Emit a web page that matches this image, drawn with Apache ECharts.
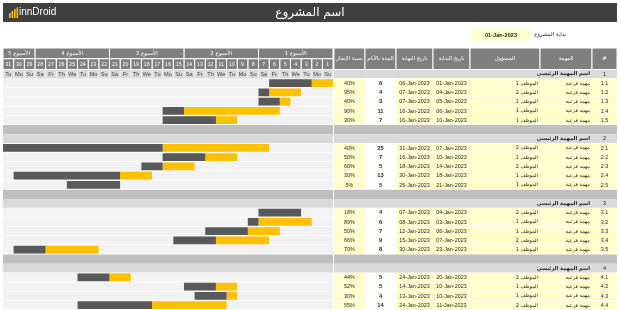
<!DOCTYPE html>
<html><head><meta charset="utf-8">
<script src="https://cdn.jsdelivr.net/npm/echarts@6/dist/echarts.min.js"></script>
<style>html,body{margin:0;padding:0;background:#fff}#c{width:620px;height:310px}</style>
</head><body><div id="c"></div><script>
// ---------- data ----------
const projectTitle = 'اسم المشروع';
const projectStartLabel = 'بداية المشروع';
const projectStartDate = '01-Jan-2023';
const monthLabel = 'Jan';
const yearLabel = '2023';
const daysInMonth = 31;
const weekLabels = ['الأسبوع 1', 'الأسبوع 2', 'الأسبوع 3', 'الأسبوع 4', 'الأسبوع 5'];
const weekStartDays = [1, 8, 15, 22, 29];
const weekEndDays = [7, 14, 21, 28, 31];
const dayNames = ['Su', 'Mo', 'Tu', 'We', 'Th', 'Fr', 'Sa']; // 1 Jan 2023 is a Sunday
const tableHeaders = ['نسبة الإنجاز', 'المدة بالأيام', 'تاريخ النهاية', 'تاريخ البداية', 'المسؤول', 'المهمة', '#'];
const sectionIds = ['1', '2', '3', '4'];
const sectionNames = ['اسم المهمة الرئيسي', 'اسم المهمة الرئيسي', 'اسم المهمة الرئيسي', 'اسم المهمة الرئيسي'];
const sectionTaskCounts = [5, 5, 5, 4];
const taskIds = ['1.1','1.2','1.3','1.4','1.5','2.1','2.2','2.3','2.4','2.5','3.1','3.2','3.3','3.4','3.5','4.1','4.2','4.3','4.4'];
const taskNames = ['مهمة فرعية','مهمة فرعية','مهمة فرعية','مهمة فرعية','مهمة فرعية','مهمة فرعية','مهمة فرعية','مهمة فرعية','مهمة فرعية','مهمة فرعية','مهمة فرعية','مهمة فرعية','مهمة فرعية','مهمة فرعية','مهمة فرعية','مهمة فرعية','مهمة فرعية','مهمة فرعية','مهمة فرعية'];
const taskOwners = ['الموظف 1','الموظف 2','الموظف 1','الموظف 1','الموظف 1','الموظف 2','الموظف 1','الموظف 2','الموظف 1','الموظف 1','الموظف 2','الموظف 1','الموظف 1','الموظف 2','الموظف 1','الموظف 2','الموظف 1','الموظف 1','الموظف 2'];
const taskStartDay = [1, 4, 5, 6, 10, 7, 10, 14, 18, 21, 4, 3, 6, 7, 23, 20, 10, 10, 11];
const taskEndDay = [6, 7, 7, 16, 16, 31, 16, 18, 30, 25, 7, 8, 12, 15, 30, 24, 14, 13, 24];
const taskDuration = [6, 4, 3, 11, 7, 25, 7, 5, 13, 5, 4, 6, 7, 9, 8, 5, 5, 4, 14];
const taskProgress = [40, 95, 40, 90, 30, 40, 50, 60, 30, 5, 18, 89, 50, 66, 70, 44, 52, 30, 55];

// ---------- layout / style ----------
const FONT = "'Liberation Sans','DejaVu Sans',sans-serif";
const AFONT = "'DejaVu Sans','Liberation Sans',sans-serif";
const colWidths = [31, 31, 37, 37, 70, 52, 25]; // left -> right, matches tableHeaders
const C = {bar: '#ffc000', rest: '#595959', head: '#7f7f7f', dayBg: '#d9d9d9', sep: '#bfbfbf', main: '#d9d9d9', row: '#f2f2f2', yellow: '#ffffcc', text: '#262626'};
const ROW_H = 9.35, BODY_TOP = 69.5, HEAD_TOP = 48;

const fmtDate = d => String(d).padStart(2, '0') + '-' + monthLabel + '-' + yearLabel;
const colEdges = [0];
colWidths.forEach(w => colEdges.push(colEdges[colEdges.length - 1] + w));
const tableWidth = colEdges[colEdges.length - 1];

const rows = [];
let tCounter = 0;
sectionIds.forEach((s, si) => {
  if (si > 0) rows.push({type: 'sep'});
  rows.push({type: 'main', sec: si});
  for (let k = 0; k < sectionTaskCounts[si]; k++) rows.push({type: 'task', t: tCounter++});
});

function xr(api, a, b, ri) {
  const xa = api.coord([a, ri])[0], xb = api.coord([b, ri])[0];
  return [Math.min(xa, xb), Math.abs(xb - xa)];
}
function txt(text, x, y, o) {
  return {type: 'text', silent: true, style: Object.assign({text, x, y, align: 'center', verticalAlign: 'middle', fill: C.text, fontSize: 5.4, fontFamily: FONT}, o || {})};
}

function renderGanttBody(params, api) {
  const ri = api.value(1);
  const r = rows[ri];
  const yc = api.coord([1, ri])[1];
  const h = api.size([0, 1])[1];
  const y0 = yc - h / 2;
  const [gx, gw] = xr(api, 0.5, daysInMonth + 0.5, ri);
  const ch = [];
  if (r.type === 'sep') {
    ch.push({type: 'rect', shape: {x: gx, y: y0, width: gw, height: h}, style: {fill: C.sep}});
  } else if (r.type === 'main') {
    ch.push({type: 'rect', shape: {x: gx, y: y0, width: gw, height: h - 0.6}, style: {fill: C.main}});
    if (r.sec === 0) {
      for (let d = 1; d <= daysInMonth; d++) {
        const [x, w] = xr(api, d - 0.5, d + 0.5, ri);
        ch.push({type: 'rect', shape: {x, y: y0, width: w, height: h}, style: {fill: C.dayBg, stroke: '#fff', lineWidth: 0.6}});
        ch.push(txt(dayNames[(d - 1) % 7], x + w / 2, yc, {fontSize: 5.6, fill: '#404040'}));
      }
    }
  } else {
    const t = r.t;
    ch.push({type: 'rect', shape: {x: gx, y: y0, width: gw, height: h - 0.7}, style: {fill: C.row}});
    const s = taskStartDay[t], e = taskEndDay[t];
    const done = Math.floor(taskProgress[t] / 100 * taskDuration[t]);
    if (done > 0) {
      const [x, w] = xr(api, s - 0.5, s + done - 0.5, ri);
      ch.push({type: 'rect', shape: {x, y: y0 + 0.5, width: w, height: h - 1.5}, style: {fill: C.bar}});
    }
    if (s + done <= e) {
      const [x, w] = xr(api, s + done - 0.5, e + 0.5, ri);
      ch.push({type: 'rect', shape: {x, y: y0 + 0.5, width: w, height: h - 1.5}, style: {fill: C.rest}});
    }
  }
  return {type: 'group', children: ch};
}

function renderGanttHead(params, api) {
  const ri = api.value(1);
  const yc = api.coord([1, ri])[1];
  const h = api.size([0, 1])[1];
  const y0 = yc - h / 2;
  const ch = [];
  if (ri === 0) {
    weekLabels.forEach((lab, w) => {
      const [x, wd] = xr(api, weekStartDays[w] - 0.5, weekEndDays[w] + 0.5, ri);
      ch.push({type: 'rect', shape: {x, y: y0, width: wd, height: h}, style: {fill: C.head, stroke: '#fff', lineWidth: 1}});
      ch.push(txt(lab, x + wd / 2, yc, {fill: '#fff', fontSize: 5.4, fontFamily: AFONT}));
    });
  } else {
    for (let d = 1; d <= daysInMonth; d++) {
      const [x, w] = xr(api, d - 0.5, d + 0.5, ri);
      ch.push({type: 'rect', shape: {x, y: y0, width: w, height: h}, style: {fill: C.head, stroke: '#fff', lineWidth: 1}});
      ch.push(txt(String(d), x + w / 2, yc, {fill: '#fff', fontSize: 5.2}));
    }
  }
  return {type: 'group', children: ch};
}

function renderTableHead(params, api) {
  const yc = api.coord([0, 0])[1];
  const h = api.size([0, 1])[1];
  const y0 = yc - h / 2;
  const ch = [];
  tableHeaders.forEach((lab, c) => {
    const [x, w] = xr(api, colEdges[c], colEdges[c + 1], 0);
    ch.push({type: 'rect', shape: {x, y: y0, width: w, height: h}, style: {fill: C.head, stroke: '#fff', lineWidth: 1}});
    ch.push(txt(lab, x + w / 2, yc, {fill: '#fff', fontSize: 5.4, fontFamily: AFONT}));
  });
  return {type: 'group', children: ch};
}

function renderTableBody(params, api) {
  const ri = api.value(1);
  const r = rows[ri];
  const yc = api.coord([0, ri])[1];
  const h = api.size([0, 1])[1];
  const y0 = yc - h / 2;
  const [tx, tw] = xr(api, 0, tableWidth, ri);
  const cx = c => xr(api, colEdges[c], colEdges[c + 1], ri);
  const ch = [];
  if (r.type === 'sep') {
    ch.push({type: 'rect', shape: {x: tx, y: y0, width: tw, height: h}, style: {fill: C.sep}});
  } else if (r.type === 'main') {
    ch.push({type: 'rect', shape: {x: tx, y: y0, width: tw, height: h - 0.6}, style: {fill: C.main}});
    const [ix, iw] = cx(6);
    ch.push(txt(sectionIds[r.sec], ix + iw / 2, yc));
    const [nx, nw] = cx(5);
    ch.push(txt(sectionNames[r.sec], nx + nw - 2, yc, {align: 'right', fontWeight: 'bold', fontFamily: AFONT, fontSize: 5.2}));
  } else {
    const t = r.t;
    ch.push({type: 'rect', shape: {x: tx, y: y0, width: tw, height: h - 0.7}, style: {fill: C.yellow}});
    const [dx, dw] = cx(1);
    ch.push({type: 'rect', shape: {x: dx, y: y0, width: dw, height: h - 0.7}, style: {fill: '#fff'}});
    let [x, w] = cx(0);
    ch.push(txt(taskProgress[t] + '%', x + w / 2, yc));
    ch.push(txt(String(taskDuration[t]), dx + dw / 2, yc, {fontWeight: 'bold', fontSize: 5.8}));
    [x, w] = cx(2);
    ch.push(txt(fmtDate(taskEndDay[t]), x + w / 2, yc));
    [x, w] = cx(3);
    ch.push(txt(fmtDate(taskStartDay[t]), x + w / 2, yc));
    [x, w] = cx(4);
    ch.push(txt(taskOwners[t], x + w - 2, yc, {align: 'right', fontFamily: AFONT, fontSize: 5}));
    [x, w] = cx(5);
    ch.push(txt(taskNames[t], x + w - 2, yc, {align: 'right', fontFamily: AFONT, fontSize: 5}));
    [x, w] = cx(6);
    ch.push(txt(taskIds[t], x + w / 2, yc));
  }
  return {type: 'group', children: ch};
}

const bodyH = rows.length * ROW_H;
const headH = BODY_TOP - HEAD_TOP;
const hidden = {show: false};
const option = {
  animation: false,
  grid: [
    {left: 3, width: 330, top: BODY_TOP, height: bodyH},
    {left: 334, width: tableWidth, top: BODY_TOP, height: bodyH},
    {left: 3, width: 330, top: HEAD_TOP, height: headH},
    {left: 334, width: tableWidth, top: HEAD_TOP, height: headH}
  ],
  xAxis: [
    Object.assign({type: 'value', gridIndex: 0, min: 0.5, max: daysInMonth + 0.5, inverse: true}, hidden),
    Object.assign({type: 'value', gridIndex: 1, min: 0, max: tableWidth}, hidden),
    Object.assign({type: 'value', gridIndex: 2, min: 0.5, max: daysInMonth + 0.5, inverse: true}, hidden),
    Object.assign({type: 'value', gridIndex: 3, min: 0, max: tableWidth}, hidden)
  ],
  yAxis: [
    Object.assign({type: 'category', gridIndex: 0, inverse: true, data: rows.map((r, i) => 'r' + i)}, hidden),
    Object.assign({type: 'category', gridIndex: 1, inverse: true, data: rows.map((r, i) => 'r' + i)}, hidden),
    Object.assign({type: 'category', gridIndex: 2, inverse: true, data: ['week', 'date']}, hidden),
    Object.assign({type: 'category', gridIndex: 3, inverse: true, data: ['hdr']}, hidden)
  ],
  series: [
    {type: 'custom', xAxisIndex: 0, yAxisIndex: 0, renderItem: renderGanttBody, data: rows.map((r, i) => [1, i]), silent: true, clip: false},
    {type: 'custom', xAxisIndex: 1, yAxisIndex: 1, renderItem: renderTableBody, data: rows.map((r, i) => [0, i]), silent: true, clip: false},
    {type: 'custom', xAxisIndex: 2, yAxisIndex: 2, renderItem: renderGanttHead, data: [[1, 0], [1, 1]], silent: true},
    {type: 'custom', xAxisIndex: 3, yAxisIndex: 3, renderItem: renderTableHead, data: [[0, 0]], silent: true}
  ],
  graphic: [
    {type: 'rect', left: 3, top: 3, shape: {width: 614, height: 19}, style: {fill: '#404040'}, silent: true},
    {type: 'rect', left: 9, top: 13, shape: {width: 1.6, height: 5}, style: {fill: C.bar}},
    {type: 'rect', left: 11.5, top: 11, shape: {width: 1.6, height: 7}, style: {fill: C.bar}},
    {type: 'rect', left: 14, top: 9, shape: {width: 1.6, height: 9}, style: {fill: C.bar}},
    {type: 'rect', left: 16.5, top: 7.5, shape: {width: 1.6, height: 10.5}, style: {fill: C.bar}},
    {type: 'text', left: 19, top: 7, style: {text: 'innDroid', fill: '#fff', font: '10px ' + FONT}},
    {type: 'text', x: 310, y: 13, style: {text: projectTitle, fill: '#fff', font: '12px ' + AFONT, align: 'center', verticalAlign: 'middle'}},
    {type: 'rect', left: 472, top: 29, shape: {width: 58, height: 12}, style: {fill: C.yellow}},
    {type: 'text', x: 501, y: 35, style: {text: projectStartDate, fill: C.text, font: 'bold 5.6px ' + FONT, align: 'center', verticalAlign: 'middle'}},
    {type: 'text', x: 566, y: 35, style: {text: projectStartLabel, fill: C.text, font: '5.4px ' + AFONT, align: 'right', verticalAlign: 'middle'}}
  ]
};
echarts.init(document.getElementById('c'), null, {renderer: 'canvas'}).setOption(option);
</script></body></html>
